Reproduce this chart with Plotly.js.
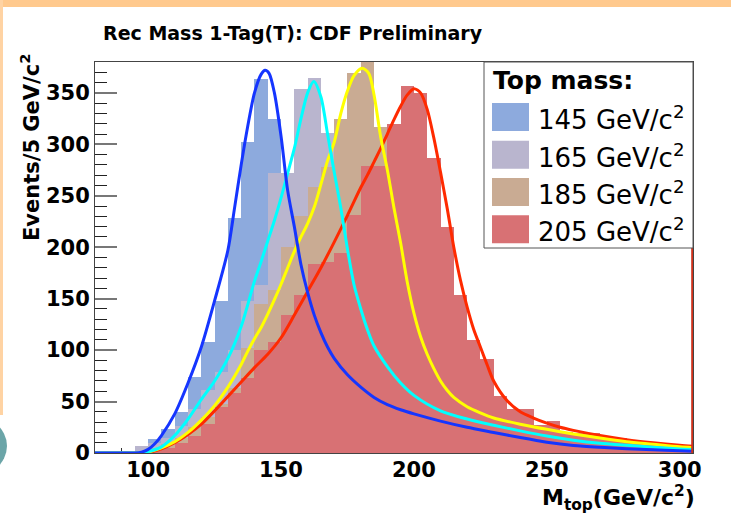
<!DOCTYPE html>
<html>
<head>
<meta charset="utf-8">
<script src="https://cdn.plot.ly/plotly-3.0.1.min.js"></script>
<style>
  html, body { margin: 0; padding: 0; background: #ffffff; }
  #chart { width: 731px; height: 516px; }
</style>
</head>
<body>
<div id="chart"></div>
<script>
// ---------------- DATA ----------------
// histogram bin centres (5 GeV bins, 80 - 305 GeV)
const binCenters = [82.5, 87.5, 92.5, 97.5, 102.5, 107.5, 112.5, 117.5, 122.5, 127.5,
  132.5, 137.5, 142.5, 147.5, 152.5, 157.5, 162.5, 167.5, 172.5, 177.5,
  182.5, 187.5, 192.5, 197.5, 202.5, 207.5, 212.5, 217.5, 222.5, 227.5,
  232.5, 237.5, 242.5, 247.5, 252.5, 257.5, 262.5, 267.5, 272.5, 277.5,
  282.5, 287.5, 292.5, 297.5, 302.5];

const hist145 = [0,0,1,5,14,23,40,74,108,148,228,302,363,325,240,170,125,95,78,64,
  55,48,42,38,34,31,28,25,22,20,18,16,14,12,10,9,8,7,6,5,5,4,3,3,2];
const hist165 = [0,0,0,7,10,15,26,43,61,79,100,148,163,272,272,354,364,311,245,180,
  135,105,85,70,58,50,44,39,35,31,28,25,22,20,17,15,13,12,10,9,8,7,6,5,5];
const hist185 = [0,0,0,2,5,9,15,25,35,48,63,102,145,158,200,230,259,278,325,369,
  385,317,290,235,170,120,90,70,56,46,39,33,28,24,21,18,16,14,12,11,10,9,8,7,6];
const hist205 = [0,0,0,1,2,5,10,17,28,45,58,73,100,108,134,154,184,186,194,231,
  279,279,320,357,350,287,220,154,110,91,55,43,43,27,31,20,19,19,17,15,12,11,10,9,8];

// fitted template curves
const fit145x = [80,90,95,97.5,100,102.5,105,110,115,120,125,130,132.5,135,137.5,140,142.5,144,145.5,147.5,
  150,152.5,155,157.5,160,162.5,165,167.5,170,175,180,185,190,195,200,210,220,230,240,250,260,270,280,290,300,305];
const fit145y = [0,0,0,0.8,3.5,9,17,38,68,103,148,197,238,280,318,350,368,372,369,350,
  308,255,220,183,156,134,117,103,92,76,64,54,47,42,38,31,25,20,15,10.5,7.3,5.5,4.2,3.1,2.2,1.8];

const fit165x = [80,90,96,100,105,110,115,120,125,130,135,140,142.5,145,147.5,150,152.5,155,157.5,160,
  162.3,165,167.5,170,172.5,175,177.5,180,182.5,185,190,195,200,210,220,230,240,250,260,270,280,290,300,305];
const fit165y = [0,0,0,1.5,6,17,33,52,70,92,123,167,186,206,226,248,272,296,325,350,
  361,346,310,273,238,198,163,140,120,104,84,68,56,41,33,27,21.5,16.5,12.5,9.5,7.5,5.5,4,3.5];

const fit185x = [80,90,97,100,105,110,115,120,125,130,135,137.5,140,142.5,145,147.5,150,152.5,155,157.5,
  160,162.5,165,167.5,170,172.5,175,177.5,180.5,183,185,187.5,190,192.5,195,197.5,200,202.5,205,207.5,
  210,212.5,215,220,225,230,240,250,260,270,280,290,300,305];
const fit185y = [0,0,0,1,5,11,20,32,46,64,86,99,111,122,135,149,164,180,196,210,
  223,239,261,284,302,330,352,367,374,369,348,307,275,238,204,166,136,113,96,82,
  70,61,54,45,39,34,28,23,18.5,14.5,11,8.5,6,5.2];

const fit205x = [80,90,98,100,105,110,115,120,125,130,135,140,145,150,155,160,165,170,175,180,
  182.5,185,187.5,190,192.5,195,197.5,200,202.5,205,207.5,210,212.5,215,217.5,220,222.5,225,227.5,230,
  235,240,245,250,255,260,270,280,290,300,305];
const fit205y = [0,0,0,0.5,4,10,18,28,41,55,69,83,96,112,134,157,180,205,231,258,
  270,283,296,310,324,337,348,354,350,334,306,273,238,200,168,142,120,103,86,70,
  51,40,34,29,25,22,17,13,10,7.5,6.5];

const seriesNames = ['145 GeV/c<sup>2</sup>', '165 GeV/c<sup>2</sup>', '185 GeV/c<sup>2</sup>', '205 GeV/c<sup>2</sup>'];
const legendTitle = 'Top mass:';
const yTickVals = [0, 50, 100, 150, 200, 250, 300, 350];
const xTickVals = [100, 150, 200, 250, 300];

// ---------------- STYLE ----------------
const fillColors = ['#8DAADD', '#B9B5CE', '#C9AB93', '#D87174'];
const lineColors = ['#1535FF', '#00FFFF', '#FFFF00', '#FF2A00'];
const FONT = 'DejaVu Sans';

// plot-area pixel frame -> paper coords
const PL = 95, PR = 693, PT = 62, PB = 453;
const px = v => (v - PL) / (PR - PL);
const py = v => (PB - v) / (PB - PT);

const hists = [hist145, hist165, hist185, hist205];
const traces = [];
hists.forEach((h, i) => {
  traces.push({
    type: 'bar', x: binCenters, y: h, width: 5,
    name: seriesNames[i] + ' (MC)',
    marker: { color: fillColors[i], line: { width: 0 } },
    hoverinfo: 'skip', showlegend: false
  });
});
const fits = [[fit205x, fit205y, 3], [fit185x, fit185y, 2], [fit165x, fit165y, 1], [fit145x, fit145y, 0]];
fits.forEach(f => {
  traces.push({
    type: 'scatter', mode: 'lines', x: f[0], y: f[1],
    name: seriesNames[f[2]] + ' fit',
    line: { color: lineColors[f[2]], width: 3, shape: 'spline', smoothing: 0.8 },
    hoverinfo: 'skip', showlegend: false
  });
});

// ---- custom legend (ROOT style box) ----
const shapes = [];
const annotations = [];
// red frame edge on the right
shapes.push({ type: 'line', xref: 'x', yref: 'y', x0: 304.7, x1: 304.7, y0: 0, y1: 380,
  line: { color: '#D0301A', width: 2 }, layer: 'above' });
// legend box
shapes.push({ type: 'rect', xref: 'paper', yref: 'paper',
  x0: px(484), x1: px(693), y0: py(248), y1: py(62),
  fillcolor: '#ffffff', line: { color: '#555555', width: 1 }, layer: 'above' });
const rowCenters = [117, 154.7, 192, 229.3];
annotations.push({ xref: 'paper', yref: 'paper', x: px(491), y: py(80), xanchor: 'left', yanchor: 'middle',
  text: legendTitle, showarrow: false, font: { family: FONT, size: 25, weight: 'bold', color: '#000' } });
rowCenters.forEach((c, i) => {
  shapes.push({ type: 'rect', xref: 'paper', yref: 'paper',
    x0: px(492), x1: px(529), y0: py(c + 14), y1: py(c - 14),
    fillcolor: fillColors[i], line: { width: 0 }, layer: 'above' });
  annotations.push({ xref: 'paper', yref: 'paper', x: px(536), y: py(c + 1), xanchor: 'left', yanchor: 'middle',
    text: seriesNames[i], showarrow: false, font: { family: FONT, size: 26, color: '#000' } });
});
// axis titles
annotations.push({ xref: 'paper', yref: 'paper', x: px(30), y: py(148), xanchor: 'center', yanchor: 'middle',
  textangle: -90, text: 'Events/5 GeV/c<sup>2</sup>', showarrow: false,
  font: { family: FONT, size: 21, weight: 'bold', color: '#000' } });
annotations.push({ xref: 'paper', yref: 'paper', x: px(697), y: py(498), xanchor: 'right', yanchor: 'middle',
  text: 'M<sub>top</sub>(GeV/c<sup>2</sup>)', showarrow: false,
  font: { family: FONT, size: 22, weight: 'bold', color: '#000' } });
// page decoration (orange frame, teal corner)
shapes.push({ type: 'rect', xref: 'paper', yref: 'paper', x0: px(0), x1: px(731), y0: py(7), y1: py(0),
  fillcolor: '#FFC98D', line: { width: 0 }, layer: 'above' });
shapes.push({ type: 'rect', xref: 'paper', yref: 'paper', x0: px(0), x1: px(3), y0: py(415), y1: py(0),
  fillcolor: '#FFD3A3', line: { width: 0 }, layer: 'above' });
shapes.push({ type: 'circle', xref: 'paper', yref: 'paper', x0: px(-70), x1: px(7), y0: py(478), y1: py(414),
  fillcolor: '#6BA5A8', line: { width: 0 }, layer: 'above' });

const layout = {
  width: 731, height: 516,
  margin: { l: PL, r: 731 - PR, t: PT, b: 516 - PB, pad: 0 },
  paper_bgcolor: '#ffffff', plot_bgcolor: '#ffffff',
  barmode: 'overlay', bargap: 0,
  showlegend: false,
  title: { text: 'Rec Mass 1-Tag(T): CDF Preliminary', xref: 'container', yref: 'container',
    x: 103 / 731, xanchor: 'left', y: 1 - 33 / 516, yanchor: 'middle',
    font: { family: FONT, size: 19, weight: 'bold', color: '#000' } },
  xaxis: {
    range: [80, 305], tickvals: xTickVals, ticktext: xTickVals.map(String),
    ticks: 'inside', ticklen: 8, tickcolor: '#333', tickwidth: 1,
    minor: { dtick: 10, tick0: 0, ticks: 'inside', ticklen: 5, tickcolor: '#333' },
    showline: true, mirror: true, linecolor: '#444', linewidth: 1,
    showgrid: false, zeroline: false, layer: 'below traces',
    ticklabelstandoff: -2,
    tickfont: { family: FONT, size: 21, weight: 'bold', color: '#000' }
  },
  yaxis: {
    range: [0, 380], tickvals: yTickVals, ticktext: yTickVals.map(String),
    ticks: 'inside', ticklen: 22, tickcolor: '#777', tickwidth: 2,
    minor: { dtick: 10, tick0: 0, ticks: 'inside', ticklen: 12, tickcolor: '#222', tickwidth: 1 },
    showline: true, mirror: true, linecolor: '#444', linewidth: 1,
    showgrid: false, zeroline: false,
    tickfont: { family: FONT, size: 21, weight: 'bold', color: '#000' }
  },
  shapes: shapes,
  annotations: annotations
};

Plotly.newPlot('chart', traces, layout, { staticPlot: true, displayModeBar: false });
</script>
</body>
</html>
